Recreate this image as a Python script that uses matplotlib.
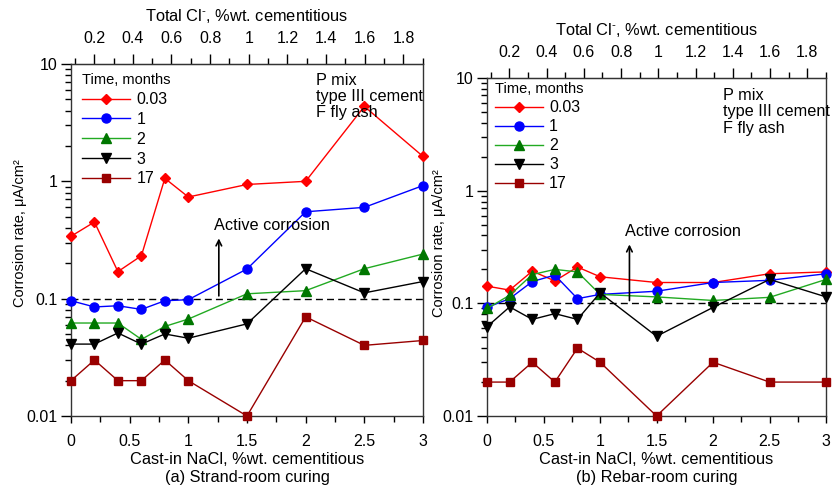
import numpy as np
import matplotlib
matplotlib.use("Agg")
import matplotlib.pyplot as plt
from matplotlib.ticker import MultipleLocator, LogLocator, NullFormatter, FixedLocator

plt.rcParams['font.family'] = ['Liberation Sans', 'DejaVu Sans']
plt.rcParams['mathtext.fontset'] = 'custom'
plt.rcParams['mathtext.rm'] = 'Liberation Sans'

# cast-in NaCl, %wt. cementitious
nacl = [0, 0.2, 0.4, 0.6, 0.8, 1.0, 1.5, 2.0, 2.5, 3.0]
times = ['0.03', '1', '2', '3', '17']

# (a) strand-room curing
strand = {
    '0.03': [0.34, 0.45, 0.17, 0.232, 1.06, 0.735, 0.94, 1.0, 4.35, 1.63],
    '1':    [0.096, 0.085, 0.087, 0.081, 0.096, 0.098, 0.179, 0.55, 0.60, 0.92],
    '2':    [0.062, 0.062, 0.062, 0.045, 0.058, 0.067, 0.11, 0.117, 0.18, 0.24],
    '3':    [0.041, 0.041, 0.051, 0.041, 0.050, 0.046, 0.061, 0.18, 0.112, 0.14],
    '17':   [0.02, 0.03, 0.02, 0.02, 0.03, 0.02, 0.01, 0.07, 0.04, 0.044],
}
# (b) rebar-room curing
rebar = {
    '0.03': [0.142, 0.131, 0.193, 0.158, 0.21, 0.172, 0.153, 0.153, 0.183, 0.19],
    '1':    [0.092, 0.11, 0.156, 0.178, 0.11, 0.12, 0.128, 0.153, 0.16, 0.183],
    '2':    [0.09, 0.118, 0.18, 0.20, 0.19, 0.12, 0.114, 0.106, 0.113, 0.163],
    '3':    [0.062, 0.093, 0.072, 0.081, 0.072, 0.124, 0.051, 0.092, 0.163, 0.114],
    '17':   [0.02, 0.02, 0.03, 0.02, 0.04, 0.03, 0.01, 0.03, 0.02, 0.02],
}

styles = {
    '0.03': dict(color='#ff0000', marker='D', ms=5.5),
    '1':    dict(color='#0000ff', marker='o', ms=6.5),
    '2':    dict(color='#22aa22', marker='^', ms=6.5, mfc='#007700', mec='#007700'),
    '3':    dict(color='#000000', marker='v', ms=6.5),
    '17':   dict(color='#990000', marker='s', ms=6),
}

# total chloride vs cast-in NaCl (background + Cl fraction of NaCl)
cl_bg, cl_frac = 0.08, 0.607
top_ticks = [0.2, 0.4, 0.6, 0.8, 1.0, 1.2, 1.4, 1.6, 1.8]

fig = plt.figure(figsize=(8.34, 4.96), dpi=100)
ax1 = fig.add_axes([0.0851, 0.1613, 0.4221, 0.7097])
ax2 = fig.add_axes([0.5840, 0.1613, 0.4065, 0.6815])


def draw(ax, data, caption, leg_anchor, leg_space, text_y, act_y, ylab_x, ylab_y):
    for t in times:
        ax.plot(nacl, data[t], lw=1, label=t, clip_on=False, zorder=3, **styles[t])
    ax.set_yscale('log')
    ax.set_xlim(0, 3)
    ax.set_ylim(0.01, 10)
    ax.axhline(0.1, color='black', lw=1, ls=(0, (5, 3)), zorder=2)
    ax.annotate('', xy=(1.26, act_y * 0.82), xytext=(1.26, 0.1),
                arrowprops=dict(arrowstyle='->', color='black', lw=1.2))
    ax.text(1.22, act_y, 'Active corrosion', ha='left', va='center', fontsize=11.7)
    ax.text(0.695, text_y, 'P mix\ntype III cement\nF fly ash', transform=ax.transAxes,
            ha='left', va='top', fontsize=11.7, linespacing=1.1)
    ax.set_yticks([0.01, 0.1, 1, 10])
    ax.set_yticklabels(['0.01', '0.1', '1', '10'])
    ax.yaxis.set_minor_locator(LogLocator(base=10, subs=np.arange(2, 10)))
    ax.yaxis.set_minor_formatter(NullFormatter())
    ax.xaxis.set_major_locator(MultipleLocator(0.5))
    ax.xaxis.set_minor_locator(MultipleLocator(0.25))
    ax.xaxis.set_major_formatter(lambda v, p: '%g' % v)
    ax.tick_params(which='major', direction='out', length=7, width=1, labelsize=11.5, pad=2.5)
    ax.tick_params(which='minor', direction='out', length=4, width=1)
    ax.tick_params(axis='x', which='major', length=5, pad=8)
    ax.set_ylabel('Corrosion rate, μA/cm²', fontsize=10.5,
                  family=['Liberation Sans Narrow', 'Liberation Sans'])
    ax.yaxis.set_label_coords(ylab_x, ylab_y)
    ax.set_xlabel('Cast-in NaCl, %wt. cementitious\n' + caption, fontsize=11.8,
                  linespacing=1.3, labelpad=2)
    for s in ax.spines.values():
        s.set_linewidth(1)
        s.set_color('#333333')

    sec = ax.secondary_xaxis('top', functions=(lambda b: cl_bg + cl_frac * b,
                                               lambda c: (c - cl_bg) / cl_frac))
    sec.xaxis.set_major_locator(FixedLocator(top_ticks))
    sec.xaxis.set_minor_locator(MultipleLocator(0.1))
    sec.xaxis.set_major_formatter(lambda v, p: '%g' % v)
    sec.tick_params(which='major', direction='out', length=7, width=1, labelsize=11.5, pad=6)
    sec.tick_params(which='minor', direction='out', length=4, width=1)
    sec.set_xlabel('Total Cl$^{\\text{-}}$, %wt. cementitious', fontsize=11.8, labelpad=7)
    sec.spines['top'].set_color('#333333')

    ax.legend(title='Time, months', loc='upper left', bbox_to_anchor=leg_anchor,
              frameon=False, fontsize=11.5, title_fontsize=10.5, handlelength=3.0,
              labelspacing=leg_space, borderpad=0.2, handletextpad=0.4, alignment='left')
    return ax


draw(ax1, strand, '(a) Strand-room curing', (0.0, 1.005), 0.3, 0.975, 0.42, -0.125, 0.52)
draw(ax2, rebar, '(b) Rebar-room curing', (-0.01, 1.02), 0.25, 0.97, 0.43, -0.122, 0.51)

fig.savefig('out.png', dpi=100)
